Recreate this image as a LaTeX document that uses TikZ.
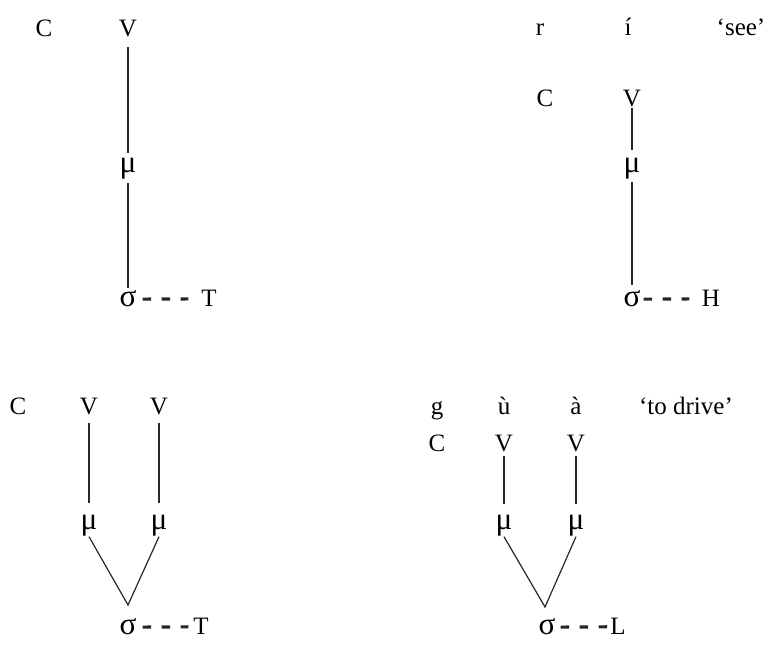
\documentclass[tikz,border=0pt]{standalone}
\usepackage{fontspec}
\setmainfont{Liberation Serif}
\usepackage{tikz}
\usetikzlibrary{positioning}

\begin{document}
\begin{tikzpicture}[font=\fontsize{18.75}{22}\selectfont, x=0.75pt, y=-0.75pt]
\tikzset{
  seg/.style  ={anchor=base, inner sep=0pt, outer sep=0pt},
  gk/.style   ={seg, font=\fontsize{23.4}{27}\selectfont},
  assoc/.style={draw=black!85, line width=0.9pt},
  tone/.style ={draw=black!85, line width=2.4pt, dash pattern=on 6.4pt off 7.9pt}
}
\useasboundingbox (0,0) rectangle (769,645);
% top left: CV
\node (c1)[seg] at (44,37) {C};
\node (v1)[seg] at (128,37) {V};
\node (mu1)[gk] at (128,173) {μ};
\node (sg1)[gk] at (128,307) {σ};
\node (t1)[seg] at (209,307) {T};
\draw[assoc, shorten <=7.5pt, shorten >=4.5pt] (v1.south) -- (mu1.north);
\draw[assoc, shorten <=2.5pt, shorten >=2.3pt] (mu1.south) -- (sg1.north);
\draw[tone, shorten <=4.6pt, shorten >=9.7pt] (sg1.east) -- (t1.west);
% top right: ri 'see'
\node (r2)[seg] at (540,36) {r};
\node (i2)[seg] at (628,36) {í};
\node (gl2)[seg] at (741,36) {‘see’};
\node (c2)[seg] at (545,107) {C};
\node (v2)[seg] at (632,107) {V};
\node (mu2)[gk] at (632,173) {μ};
\node (sg2)[gk] at (632,307) {σ};
\node (h2)[seg] at (711,307) {H};
\draw[assoc, shorten <=0.8pt, shorten >=6.8pt] (v2.south) -- (mu2.north);
\draw[assoc, shorten <=1.8pt, shorten >=4.5pt] (mu2.south) -- (sg2.north);
\draw[tone, shorten <=2.4pt, shorten >=9.4pt] (sg2.east) -- (h2.west);
% bottom left: CVV
\node (c3)[seg] at (18,415) {C};
\node (v3a)[seg] at (89,415) {V};
\node (v3b)[seg] at (159,415) {V};
\node (mu3a)[gk] at (89,530) {μ};
\node (mu3b)[gk] at (159,530) {μ};
\node (sg3)[gk] at (128,635) {σ};
\node (t3)[seg] at (201,635) {T};
\coordinate (j3) at (128,605);
\draw[assoc, shorten <=6pt, shorten >=9.8pt] (v3a.south) -- (mu3a.north);
\draw[assoc, shorten <=6pt, shorten >=9.8pt] (v3b.south) -- (mu3b.north);
\draw[assoc] (mu3a.south) -- (j3) -- (mu3b.south);
\draw[tone, shorten <=4.6pt, shorten >=3.7pt] (sg3.east) -- (t3.west);
% bottom right: guà 'to drive'
\node (g4)[seg] at (437,415) {g};
\node (u4)[seg] at (504,415) {ù};
\node (a4)[seg] at (576,415) {à};
\node (gl4)[seg] at (686,415) {‘to drive’};
\node (c4)[seg] at (437,452) {C};
\node (v4a)[seg] at (504,452) {V};
\node (v4b)[seg] at (576,452) {V};
\node (mu4a)[gk] at (504,530) {μ};
\node (mu4b)[gk] at (576,530) {μ};
\node (sg4)[gk] at (547,635) {σ};
\node (l4)[seg] at (618,635) {L};
\coordinate (j4) at (545,607);
\draw[assoc, shorten <=3pt, shorten >=9pt] (v4a.south) -- (mu4a.north);
\draw[assoc, shorten <=3pt, shorten >=9pt] (v4b.south) -- (mu4b.north);
\draw[assoc] (mu4a.south) -- (j4) -- (mu4b.south);
\draw[tone, shorten <=3.9pt, shorten >=2.4pt] (sg4.east) -- (l4.west);
\end{tikzpicture}
\end{document}
